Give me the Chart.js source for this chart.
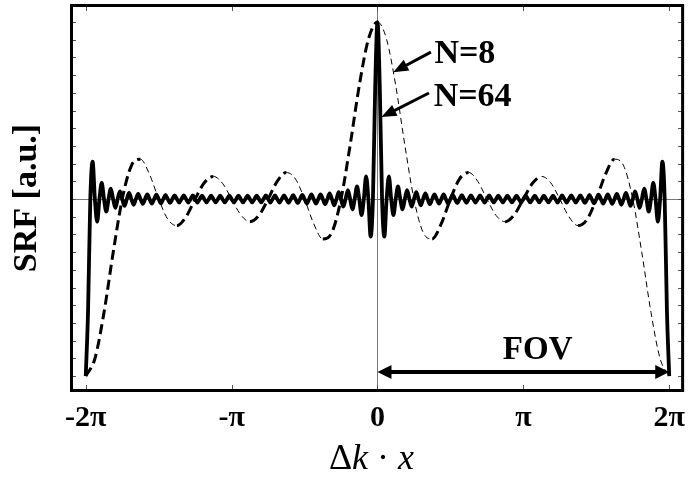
<!DOCTYPE html>
<html>
<head>
<meta charset="utf-8">
<script src="https://cdn.jsdelivr.net/npm/chart.js@4/dist/chart.umd.min.js"></script>
<style>
  body { margin: 0; background: #fff; }
  #wrap { width: 693px; height: 480px; }
</style>
</head>
<body>
<div id="wrap"><canvas id="srfChart"></canvas></div>
<script>
// x is measured in units of pi, so the ticks are whole numbers
const tickValues = [-2, -1, 0, 1, 2];
const tickLabels = ['-2π', '-π', '0', 'π', '2π'];
const yMarks = [-1, -0.9, -0.8, -0.7, -0.6, -0.5, -0.4, -0.3, -0.2, -0.1, 0,
                0.1, 0.2, 0.3, 0.4, 0.5, 0.6, 0.7, 0.8, 0.9, 1];

// samples start at -2 pi, one every 1/16 pi (N=8) or 1/64 pi (N=64)
const xStart = -2;
const n8Step = 1 / 16;
const n64Step = 1 / 64;

// N=8
const srfN8 = [
  -1, -0.902, -0.641, -0.305, 0, 0.188, 0.225, 0.139,
  0, -0.114, -0.150, -0.100, 0, 0.092, 0.128, 0.089,
  0, -0.089, -0.128, -0.092, 0, 0.100, 0.150, 0.114,
  0, -0.139, -0.225, -0.188, 0, 0.305, 0.641, 0.902,
  1,
  0.902, 0.641, 0.305, 0, -0.188, -0.225, -0.139, 0,
  0.114, 0.150, 0.100, 0, -0.092, -0.128, -0.089, 0,
  0.089, 0.128, 0.092, 0, -0.100, -0.150, -0.114, 0,
  0.139, 0.225, 0.188, 0, -0.305, -0.641, -0.902, -1
];

// N=64
const srfN64 = [
  -1, -0.637, 0, 0.212, 0, -0.128, 0, 0.091, 0, -0.071, 0, 0.059, 0, -0.050, 0, 0.043,
  0, -0.039, 0, 0.035, 0, -0.032, 0, 0.029, 0, -0.027, 0, 0.026, 0, -0.026, 0, 0.025,
  0, -0.024, 0, 0.023, 0, -0.022, 0, 0.021, 0, -0.020, 0, 0.020, 0, -0.020, 0, 0.020,
  0, -0.020, 0, 0.019, 0, -0.019, 0, 0.019, 0, -0.019, 0, 0.019, 0, -0.019, 0, 0.019,
  0, -0.019, 0, 0.019, 0, -0.019, 0, 0.019, 0, -0.019, 0, 0.019, 0, -0.019, 0, 0.020,
  0, -0.020, 0, 0.020, 0, -0.020, 0, 0.020, 0, -0.021, 0, 0.022, 0, -0.023, 0, 0.024,
  0, -0.025, 0, 0.026, 0, -0.026, 0, 0.027, 0, -0.029, 0, 0.032, 0, -0.035, 0, 0.039,
  0, -0.043, 0, 0.050, 0, -0.059, 0, 0.071, 0, -0.091, 0, 0.128, 0, -0.212, 0, 0.637,
  1,
  0.637, 0, -0.212, 0, 0.128, 0, -0.091, 0, 0.071, 0, -0.059, 0, 0.050, 0, -0.043, 0,
  0.039, 0, -0.035, 0, 0.032, 0, -0.029, 0, 0.027, 0, -0.026, 0, 0.026, 0, -0.025, 0,
  0.024, 0, -0.023, 0, 0.022, 0, -0.021, 0, 0.020, 0, -0.020, 0, 0.020, 0, -0.020, 0,
  0.020, 0, -0.019, 0, 0.019, 0, -0.019, 0, 0.019, 0, -0.019, 0, 0.019, 0, -0.019, 0,
  0.019, 0, -0.019, 0, 0.019, 0, -0.019, 0, 0.019, 0, -0.019, 0, 0.019, 0, -0.020, 0,
  0.020, 0, -0.020, 0, 0.020, 0, -0.020, 0, 0.021, 0, -0.022, 0, 0.023, 0, -0.024, 0,
  0.025, 0, -0.026, 0, 0.026, 0, -0.027, 0, 0.029, 0, -0.032, 0, 0.035, 0, -0.039, 0,
  0.043, 0, -0.050, 0, 0.059, 0, -0.071, 0, 0.091, 0, -0.128, 0, 0.212, 0, -0.637, -1
];

const n8Points = srfN8.map((v, i) => ({ x: xStart + i * n8Step, y: v }));
const n64Points = srfN64.map((v, i) => ({ x: xStart + i * n64Step, y: v }));

const serif = '"Liberation Serif", "Times New Roman", serif';

// dashed curve: heavy pen going up, thin pen coming down
const rising = ctx => ctx.p1.parsed.y > ctx.p0.parsed.y;

function arrowHead(ctx, x1, y1, x2, y2, len, half) {
  const ang = Math.atan2(y2 - y1, x2 - x1);
  ctx.beginPath();
  ctx.moveTo(x2, y2);
  ctx.lineTo(x2 - len * Math.cos(ang) + half * Math.sin(ang), y2 - len * Math.sin(ang) - half * Math.cos(ang));
  ctx.lineTo(x2 - len * Math.cos(ang) - half * Math.sin(ang), y2 - len * Math.sin(ang) + half * Math.cos(ang));
  ctx.closePath();
  ctx.fill();
}

function arrow(ctx, x1, y1, x2, y2) {
  const ang = Math.atan2(y2 - y1, x2 - x1);
  ctx.beginPath();
  ctx.moveTo(x1, y1);
  ctx.lineTo(x2 - 10 * Math.cos(ang), y2 - 10 * Math.sin(ang));
  ctx.stroke();
  arrowHead(ctx, x1, y1, x2, y2, 15, 6);
}

const decorations = {
  id: 'decorations',
  afterDatasetsDraw(chart) {
    const { ctx, chartArea: a, scales: { x, y } } = chart;
    ctx.save();

    // small inward tick marks on all four sides
    ctx.strokeStyle = '#555';
    ctx.lineWidth = 1;
    ctx.beginPath();
    y.ticks.forEach(t => {
      const py = Math.round(y.getPixelForValue(t.value)) + 0.5;
      ctx.moveTo(a.left, py); ctx.lineTo(a.left + 6, py);
      ctx.moveTo(a.right - 6, py); ctx.lineTo(a.right, py);
    });
    x.ticks.forEach(t => {
      const px = Math.round(x.getPixelForValue(t.value)) + 0.5;
      ctx.moveTo(px, a.top); ctx.lineTo(px, a.top + 7);
      ctx.moveTo(px, a.bottom - 7); ctx.lineTo(px, a.bottom);
    });
    ctx.stroke();

    // frame
    ctx.strokeStyle = '#000';
    ctx.lineWidth = 3;
    ctx.strokeRect(a.left + 1.5, a.top + 1.5, a.width - 3, a.height - 3);

    // labels with arrows
    ctx.fillStyle = '#000';
    ctx.lineWidth = 3;
    ctx.font = 'bold 34px ' + serif;
    ctx.textAlign = 'left';
    ctx.textBaseline = 'alphabetic';
    ctx.fillText('N=8', x.getPixelForValue(0.39), y.getPixelForValue(0.768));
    ctx.fillText('N=64', x.getPixelForValue(0.385), y.getPixelForValue(0.525));
    arrow(ctx, x.getPixelForValue(0.366), y.getPixelForValue(0.83),
               x.getPixelForValue(0.108), y.getPixelForValue(0.717));
    arrow(ctx, x.getPixelForValue(0.353), y.getPixelForValue(0.599),
               x.getPixelForValue(0.027), y.getPixelForValue(0.463));

    // FOV span from 0 to 2 pi
    const fy = y.getPixelForValue(-0.977);
    const f0 = x.getPixelForValue(0);
    const f1 = x.getPixelForValue(2);
    ctx.lineWidth = 4;
    ctx.beginPath();
    ctx.moveTo(f0 + 8, fy);
    ctx.lineTo(f1 - 8, fy);
    ctx.stroke();
    arrowHead(ctx, f1, fy, f0, fy, 14, 7);
    arrowHead(ctx, f0, fy, f1, fy, 14, 7);
    ctx.font = 'bold 33px ' + serif;
    ctx.textAlign = 'center';
    ctx.fillText('FOV', x.getPixelForValue(1.098), y.getPixelForValue(-0.904));

    // x axis title, mixed upright and italic
    const parts = [['Δ', ''], ['k', 'italic '], [' · ', ''], ['x', 'italic ']];
    let total = 0;
    parts.forEach(p => { ctx.font = p[1] + '36px ' + serif; total += ctx.measureText(p[0]).width; });
    let tx = x.getPixelForValue(0) - 6 - total / 2;
    ctx.textAlign = 'left';
    parts.forEach(p => {
      ctx.font = p[1] + '36px ' + serif;
      ctx.fillText(p[0], tx, a.bottom + 77);
      tx += ctx.measureText(p[0]).width;
    });

    ctx.restore();
  }
};

const grafica = document.getElementById('srfChart');
const srfChart = new Chart(grafica, {
  type: 'line',
  data: {
    datasets: [
      {
        label: 'N=64',
        data: n64Points,
        borderColor: '#000',
        borderWidth: 3.8,
        pointRadius: 0,
        cubicInterpolationMode: 'monotone',
        fill: false
      },
      {
        label: 'N=8',
        data: n8Points,
        borderColor: '#000',
        borderWidth: 3,
        pointRadius: 0,
        cubicInterpolationMode: 'monotone',
        fill: false,
        segment: {
          borderWidth: ctx => rising(ctx) ? 3 : 1,
          borderDash: ctx => rising(ctx) ? [10, 5] : [6, 4]
        }
      }
    ]
  },
  options: {
    responsive: true,
    maintainAspectRatio: false,
    animation: false,
    layout: { padding: { top: 4, right: 2, left: 0, bottom: 0 } },
    plugins: { legend: { display: false }, tooltip: { enabled: false } },
    scales: {
      x: {
        type: 'linear',
        min: -2.108,
        max: 2.102,
        afterBuildTicks: scale => { scale.ticks = tickValues.map(v => ({ value: v })); },
        afterFit: scale => { scale.height = 88; },
        ticks: {
          autoSkip: false,
          maxRotation: 0,
          padding: 8,
          color: '#000',
          font: { family: serif, size: 30, weight: 'bold' },
          callback: value => tickLabels[tickValues.indexOf(value)]
        },
        grid: {
          drawTicks: false,
          color: ctx => (ctx.tick && ctx.tick.value === 0) ? '#777' : 'rgba(0,0,0,0)',
          lineWidth: 1
        },
        border: { display: false }
      },
      y: {
        type: 'linear',
        min: -1.09,
        max: 1.102,
        afterBuildTicks: scale => { scale.ticks = yMarks.map(v => ({ value: v })); },
        afterFit: scale => { scale.width = 70; },
        ticks: { display: false },
        title: {
          display: true,
          text: 'SRF [a.u.]',
          color: '#000',
          font: { family: serif, size: 34, weight: 'bold' },
          padding: { top: 7, bottom: 0 }
        },
        grid: {
          drawTicks: false,
          color: ctx => (ctx.tick && ctx.tick.value === 0) ? '#777' : 'rgba(0,0,0,0)',
          lineWidth: 1
        },
        border: { display: false }
      }
    }
  },
  plugins: [decorations]
});
</script>
</body>
</html>
